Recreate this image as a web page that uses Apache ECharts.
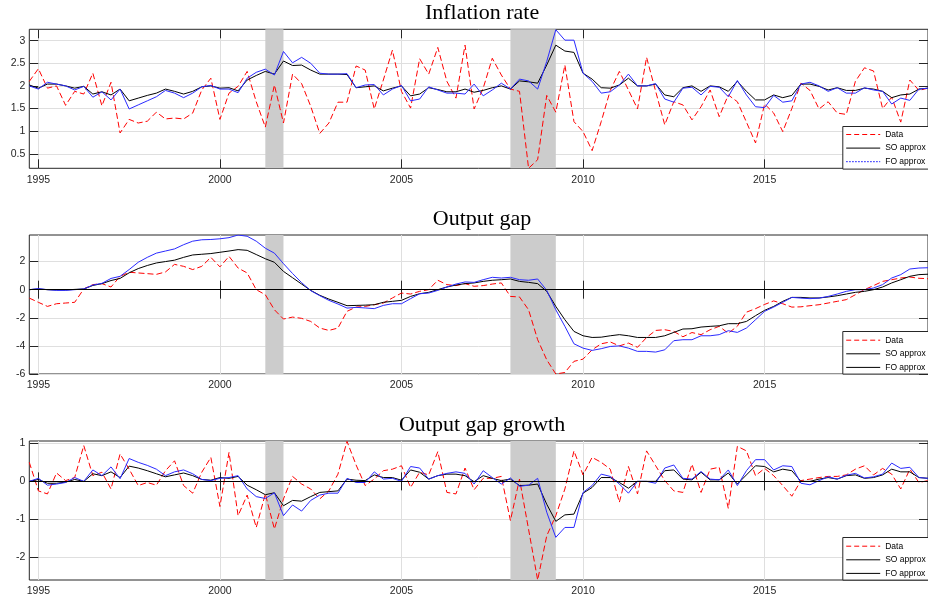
<!DOCTYPE html>
<html><head><meta charset="utf-8">
<script src="https://cdn.jsdelivr.net/npm/echarts@6/dist/echarts.min.js"></script>
<style>html,body{margin:0;padding:0;background:#fff}#c{width:928px;height:603px}</style>
</head><body><div id="c"></div>
<script>
// ---- data ----
const dates = [1994.75,
 1995,1995.25,1995.5,1995.75, 1996,1996.25,1996.5,1996.75, 1997,1997.25,1997.5,1997.75,
 1998,1998.25,1998.5,1998.75, 1999,1999.25,1999.5,1999.75, 2000,2000.25,2000.5,2000.75,
 2001,2001.25,2001.5,2001.75, 2002,2002.25,2002.5,2002.75, 2003,2003.25,2003.5,2003.75,
 2004,2004.25,2004.5,2004.75, 2005,2005.25,2005.5,2005.75, 2006,2006.25,2006.5,2006.75,
 2007,2007.25,2007.5,2007.75, 2008,2008.25,2008.5,2008.75, 2009,2009.25,2009.5,2009.75,
 2010,2010.25,2010.5,2010.75, 2011,2011.25,2011.5,2011.75, 2012,2012.25,2012.5,2012.75,
 2013,2013.25,2013.5,2013.75, 2014,2014.25,2014.5,2014.75, 2015,2015.25,2015.5,2015.75,
 2016,2016.25,2016.5,2016.75, 2017,2017.25,2017.5,2017.75, 2018,2018.25,2018.5,2018.75,
 2019,2019.25,2019.5];

const infData = [2.10,2.38,1.95,2.00,1.57,1.88,1.82,2.28,1.56,2.08,
 0.96,1.26,1.18,1.22,1.42,1.27,1.29,1.27,1.40,1.91,
 2.17,1.26,1.84,1.99,2.32,1.65,1.09,2.02,1.18,2.26,
 2.05,1.55,0.95,1.18,1.64,1.64,2.44,2.35,1.49,2.13,
 2.79,1.88,1.51,2.60,2.26,2.85,2.10,1.73,2.90,1.49,
 1.95,2.61,2.24,1.93,1.88,0.18,0.37,1.79,1.42,2.46,
 1.21,0.99,0.57,1.21,1.90,2.32,1.91,1.49,2.63,1.88,
 1.14,1.65,1.58,1.25,1.54,1.91,1.32,1.80,1.65,1.20,
 0.74,1.60,1.40,0.99,1.50,2.06,1.90,1.49,1.65,1.40,
 1.37,2.10,2.40,2.33,1.50,1.75,1.20,2.13,1.90,1.95];
const infSO = [2.02,1.95,2.04,2.04,2.00,1.95,1.99,1.82,1.87,1.80,
 1.93,1.67,1.73,1.79,1.84,1.93,1.88,1.82,1.88,1.98,
 2.00,1.95,1.96,1.89,2.13,2.23,2.32,2.26,2.55,2.45,
 2.46,2.35,2.26,2.26,2.26,2.25,1.96,1.98,2.00,1.89,
 1.95,2.00,1.78,1.82,1.96,1.92,1.87,1.87,1.93,1.86,
 1.90,1.96,2.00,1.93,2.11,2.09,2.06,2.46,2.90,2.77,
 2.74,2.28,2.15,1.96,1.95,2.02,2.17,2.00,2.00,2.04,
 1.80,1.76,1.96,2.00,1.88,2.00,1.98,1.88,2.10,1.88,
 1.69,1.69,1.80,1.74,1.79,2.04,2.04,1.99,1.91,1.96,
 1.90,1.90,1.95,1.93,1.88,1.74,1.80,1.82,1.93,1.95];
const infFO = [2.00,1.93,2.08,2.04,2.00,1.91,1.99,1.75,1.87,1.69,
 1.93,1.49,1.58,1.67,1.76,1.90,1.84,1.74,1.84,1.98,
 2.01,1.93,1.93,1.85,2.17,2.30,2.37,2.24,2.76,2.51,
 2.63,2.50,2.28,2.26,2.26,2.27,1.96,2.02,2.03,1.80,
 1.93,2.01,1.67,1.71,1.98,1.91,1.84,1.84,1.82,2.04,
 1.78,1.91,2.06,1.93,2.15,2.11,1.93,2.54,3.24,3.01,
 3.01,2.28,2.10,1.84,1.87,2.02,2.26,2.00,2.00,2.05,
 1.71,1.64,1.95,1.97,1.80,1.99,1.97,1.76,2.12,1.80,
 1.54,1.52,1.79,1.64,1.67,2.04,2.08,2.00,1.88,1.96,
 1.84,1.84,1.96,1.91,1.88,1.60,1.73,1.68,1.93,1.95];

const gapData = [-0.60,-0.90,-1.19,-1.00,-0.95,-0.90,0.05,0.36,0.43,0.19,
 0.95,1.24,1.19,1.14,1.09,1.26,1.80,1.66,1.43,1.66,
 2.30,1.62,2.37,1.54,1.19,0.00,-0.36,-1.43,-2.09,-1.95,
 -2.04,-2.26,-2.73,-2.90,-2.73,-1.54,-1.24,-1.19,-1.07,-0.95,
 -0.59,-0.24,-0.31,-0.12,0.00,0.67,0.36,0.29,0.43,0.24,
 0.29,0.40,0.48,-0.48,-0.52,-1.43,-3.56,-4.99,-6.00,-5.89,
 -5.10,-4.94,-4.28,-3.85,-3.72,-4.00,-3.80,-4.10,-3.40,-2.90,
 -2.85,-2.97,-3.35,-3.05,-3.20,-2.85,-2.61,-3.10,-2.60,-1.60,
 -1.35,-1.05,-0.80,-1.00,-1.24,-1.22,-1.14,-1.07,-0.95,-0.83,
 -0.71,-0.36,0.00,0.29,0.59,0.71,0.83,0.90,0.81,0.78];
const gapSO = [0.00,0.05,0.00,-0.02,-0.02,0.02,0.05,0.30,0.43,0.65,
 0.80,1.20,1.50,1.72,1.90,2.00,2.10,2.30,2.47,2.52,
 2.57,2.66,2.75,2.85,2.80,2.50,2.20,1.95,1.30,0.85,
 0.40,-0.05,-0.40,-0.67,-0.90,-1.14,-1.12,-1.10,-1.07,-0.90,
 -0.83,-0.76,-0.48,-0.29,-0.19,0.00,0.19,0.33,0.43,0.48,
 0.59,0.67,0.71,0.76,0.59,0.52,0.43,-0.12,-1.19,-2.14,
 -2.97,-3.28,-3.40,-3.38,-3.28,-3.20,-3.28,-3.40,-3.40,-3.40,
 -3.28,-3.04,-2.80,-2.78,-2.66,-2.61,-2.57,-2.42,-2.42,-2.26,
 -1.85,-1.47,-1.19,-0.83,-0.55,-0.55,-0.59,-0.59,-0.52,-0.43,
 -0.31,-0.19,-0.12,0.00,0.19,0.48,0.71,0.95,1.07,1.10];
const gapFO = [0.00,0.08,0.00,-0.05,-0.05,0.00,0.05,0.33,0.45,0.80,
 0.95,1.43,1.95,2.30,2.60,2.75,2.90,3.20,3.45,3.55,
 3.57,3.62,3.70,3.89,3.80,3.45,2.95,2.60,1.85,1.15,
 0.50,-0.07,-0.43,-0.76,-1.02,-1.31,-1.26,-1.30,-1.35,-1.12,
 -1.00,-1.00,-0.64,-0.29,-0.24,-0.05,0.19,0.40,0.55,0.52,
 0.71,0.88,0.83,0.88,0.71,0.67,0.76,-0.05,-1.43,-2.61,
 -3.85,-4.16,-4.32,-4.20,-4.04,-4.00,-4.16,-4.39,-4.39,-4.44,
 -4.28,-3.63,-3.56,-3.56,-3.28,-3.28,-3.20,-2.92,-3.04,-2.73,
 -2.14,-1.54,-1.24,-0.90,-0.55,-0.60,-0.64,-0.60,-0.48,-0.31,
 -0.12,0.00,0.00,0.12,0.36,0.83,1.07,1.47,1.54,1.56];

const grData = [0.50,-0.25,-0.33,0.22,0.02,0.10,0.94,0.15,0.24,-0.20,
 0.72,0.32,-0.11,-0.03,-0.10,0.28,0.54,-0.11,-0.31,0.24,
 0.63,-0.66,0.76,-0.90,-0.36,-1.21,-0.33,-1.25,-0.46,0.13,
 -0.07,-0.20,-0.46,-0.25,0.19,1.05,0.43,-0.11,0.06,0.28,
 0.32,0.41,-0.16,0.24,0.17,0.78,-0.29,-0.33,0.35,-0.22,
 0.08,0.08,0.13,-1.03,0.06,-1.26,-2.59,-1.43,-0.90,-0.20,
 0.80,0.17,0.63,0.50,0.32,-0.55,0.39,-0.33,0.80,0.41,
 0.02,-0.25,-0.29,0.45,-0.29,0.32,0.37,-0.71,0.92,0.80,
 0.15,0.34,0.15,-0.11,-0.39,0.02,0.06,0.10,0.13,0.13,
 0.17,0.32,0.41,0.17,0.34,0.19,-0.20,0.32,-0.03,0.02];
const grSO = [0.00,0.05,-0.05,-0.05,-0.02,0.05,0.00,0.20,0.15,0.25,
 0.10,0.40,0.35,0.28,0.20,0.12,0.17,0.22,0.15,0.05,
 0.03,0.10,0.08,0.13,-0.10,-0.22,-0.35,-0.30,-0.64,-0.50,
 -0.52,-0.40,-0.29,-0.27,-0.25,0.06,0.03,0.02,0.17,0.10,
 0.10,0.03,0.30,0.24,0.06,0.15,0.19,0.19,0.15,-0.01,
 0.15,0.08,0.02,0.06,-0.11,-0.10,-0.07,-0.60,-1.05,-0.88,
 -0.86,-0.31,-0.16,0.10,0.10,-0.03,-0.18,0.00,0.00,0.00,
 0.28,0.30,0.06,0.04,0.24,0.04,0.04,0.22,-0.07,0.17,
 0.41,0.39,0.25,0.32,0.28,0.00,0.00,0.06,0.10,0.06,
 0.15,0.17,0.08,0.10,0.17,0.32,0.25,0.25,0.10,0.08];
const grFO = [0.00,0.08,-0.10,-0.07,-0.03,0.10,0.00,0.30,0.15,0.38,
 0.07,0.60,0.50,0.42,0.32,0.15,0.25,0.30,0.20,0.05,
 0.02,0.08,0.10,0.15,-0.20,-0.40,-0.45,-0.30,-0.90,-0.62,
 -0.78,-0.50,-0.36,-0.31,-0.31,0.08,-0.03,-0.03,0.25,0.06,
 0.08,0.00,0.39,0.35,0.06,0.15,0.21,0.25,0.21,-0.07,
 0.28,0.10,-0.07,0.09,-0.13,-0.10,0.08,-0.81,-1.47,-1.21,
 -1.21,-0.29,-0.11,0.19,0.13,-0.07,-0.31,0.00,0.00,-0.05,
 0.35,0.43,0.08,0.06,0.26,0.06,0.04,0.30,-0.11,0.28,
 0.57,0.57,0.30,0.41,0.39,-0.05,-0.09,0.02,0.12,0.06,
 0.16,0.21,0.09,0.12,0.19,0.48,0.34,0.37,0.10,0.08];

const titles = ['Inflation rate', 'Output gap', 'Output gap growth'];
const seriesNames = ['Data', 'SO approx', 'FO approx'];
const xTicks = [1995, 2000, 2005, 2010, 2015];
const yTicksInf = [0.5, 1, 1.5, 2, 2.5, 3];
const yTicksGap = [-6, -4, -2, 0, 2];
const yTicksGr = [-2, -1, 0, 1];
const yRangeInf = [0.18, 3.25];
const yRangeGap = [-6, 3.89];
const yRangeGr = [-2.59, 1.06];
const xRange = [1994.75, 2019.5];
const recessions = [[2001.25, 2001.75], [2008.0, 2009.25]];

// ---- layout ----
const panels = [
  {data: infData, so: infSO, fo: infFO, ticks: yTicksInf, range: yRangeInf, zero: false, foLegend: {color: '#0000ff', type: [1.5, 1.5]}},
  {data: gapData, so: gapSO, fo: gapFO, ticks: yTicksGap, range: yRangeGap, zero: true, foLegend: {color: '#000000', type: 'solid'}},
  {data: grData, so: grSO, fo: grFO, ticks: yTicksGr, range: yRangeGr, zero: true, foLegend: {color: '#000000', type: 'solid'}}
];
const gridTops = [29.3, 235, 441];
const gridLeft = 29.3, gridWidth = 904.5, gridHeight = 139;
const titleYs = [13.5, 219.3, 425.3];
const legendLeft = 842.3, legendHeight = 42.6;

const pairs = vals => vals.map((v, i) => [dates[i], v]);
const axisColor = '#262626';
const labelFont = 'Liberation Sans, Arial, sans-serif';
const plainNum = v => String(v);

const grid = [], xAxis = [], yAxis = [], series = [], legend = [], graphic = [];
panels.forEach((p, g) => {
  grid.push({left: gridLeft, top: gridTops[g], width: gridWidth, height: gridHeight,
    show: true, borderColor: axisColor, borderWidth: 1, backgroundColor: 'rgba(0,0,0,0)'});
  const xBase = {gridIndex: g, type: 'value', min: xRange[0], max: xRange[1],
    axisLine: {show: false}};
  xAxis.push(Object.assign({}, xBase, {position: 'bottom',
    axisTick: {show: true, inside: true, length: 9, customValues: xTicks, lineStyle: {color: axisColor, width: 1}},
    axisLabel: {show: true, customValues: xTicks, formatter: plainNum, fontSize: 10.5, color: axisColor, margin: 6, fontFamily: labelFont},
    splitLine: {show: true, lineStyle: {color: '#dfdfdf', width: 1}}}));
  xAxis.push(Object.assign({}, xBase, {position: 'top',
    axisTick: {show: true, inside: true, length: 9, customValues: xTicks, lineStyle: {color: axisColor, width: 1}},
    axisLabel: {show: false}, splitLine: {show: false}}));
  const yBase = {gridIndex: g, type: 'value', min: p.range[0], max: p.range[1], axisLine: {show: false}};
  yAxis.push(Object.assign({}, yBase, {position: 'left',
    axisTick: {show: true, inside: true, length: 9, customValues: p.ticks, lineStyle: {color: axisColor, width: 1}},
    axisLabel: {show: true, customValues: p.ticks, formatter: plainNum, fontSize: 10.5, color: axisColor, margin: 4, fontFamily: labelFont},
    splitLine: {show: true, lineStyle: {color: '#dfdfdf', width: 1}}}));
  yAxis.push(Object.assign({}, yBase, {position: 'right',
    axisTick: {show: true, inside: true, length: 9, customValues: p.ticks, lineStyle: {color: axisColor, width: 1}},
    axisLabel: {show: false}, splitLine: {show: false}}));

  const xi = 2 * g, yi = 2 * g;
  series.push({type: 'line', name: 'shade' + g, xAxisIndex: xi, yAxisIndex: yi, data: [], z: 1,
    silent: true, symbol: 'none',
    markArea: {silent: true, itemStyle: {color: '#cccccc'},
      data: recessions.map(r => [{xAxis: r[0]}, {xAxis: r[1]}])}});
  if (p.zero) {
    series.push({type: 'line', name: 'zero' + g, xAxisIndex: xi, yAxisIndex: yi, data: [], z: 2,
      silent: true, symbol: 'none',
      markLine: {silent: true, symbol: 'none', label: {show: false},
        lineStyle: {color: '#000000', width: 1, type: 'solid'}, data: [{yAxis: 0}]}});
  }
  series.push({type: 'line', name: seriesNames[0] + '#' + g, xAxisIndex: xi, yAxisIndex: yi,
    data: pairs(p.data), symbol: 'none', showSymbol: false, z: 2,
    lineStyle: {color: '#ff0000', width: 1, type: [6, 3]}, itemStyle: {color: '#ff0000'}});
  series.push({type: 'line', name: seriesNames[1] + '#' + g, xAxisIndex: xi, yAxisIndex: yi,
    data: pairs(p.so), symbol: 'none', showSymbol: false, z: 2,
    lineStyle: {color: '#000000', width: 1}, itemStyle: {color: '#000000'}});
  series.push({type: 'line', name: seriesNames[2] + '#' + g, xAxisIndex: xi, yAxisIndex: yi,
    data: pairs(p.fo), symbol: 'none', showSymbol: false, z: 2,
    lineStyle: {color: '#2a2aff', width: 1}, itemStyle: {color: '#2a2aff'}});

  const legendTop = gridTops[g] + gridHeight - legendHeight;
  const hidden = {opacity: 0, borderWidth: 0};
  legend.push({orient: 'vertical', left: legendLeft, top: legendTop, z: 30,
    itemWidth: 34, itemHeight: 8, itemGap: 4.6, padding: [4.3, 4, 3, 3.4],
    backgroundColor: 'rgba(0,0,0,0)', borderWidth: 0,
    selectedMode: false,
    textStyle: {fontSize: 8.5, color: '#000', fontFamily: labelFont},
    formatter: name => name.split('#')[0],
    data: [
      {name: seriesNames[0] + '#' + g, itemStyle: hidden, lineStyle: {color: '#ff0000', width: 1, type: [5, 3]}},
      {name: seriesNames[1] + '#' + g, itemStyle: hidden, lineStyle: {color: '#000000', width: 1, type: 'solid'}},
      {name: seriesNames[2] + '#' + g, itemStyle: hidden, lineStyle: {color: p.foLegend.color, width: 1, type: p.foLegend.type}}
    ]});
  graphic.push({type: 'rect', z: 20, silent: true,
    shape: {x: legendLeft + 0.5, y: Math.round(legendTop) + 0.5, width: 120, height: legendHeight},
    style: {fill: '#ffffff', stroke: axisColor, lineWidth: 1}});

  graphic.push({type: 'text', x: gridLeft + gridWidth / 2 + 0.5, y: titleYs[g], z: 10,
    style: {text: titles[g], font: '22px "Liberation Serif", "Times New Roman", serif',
      fill: '#000', textAlign: 'center', textVerticalAlign: 'middle'}});
});

const chart = echarts.init(document.getElementById('c'), null, {renderer: 'canvas'});
chart.setOption({animation: false, backgroundColor: '#ffffff',
  grid, xAxis, yAxis, series, legend, graphic, tooltip: {show: false}});
</script>
</body></html>
